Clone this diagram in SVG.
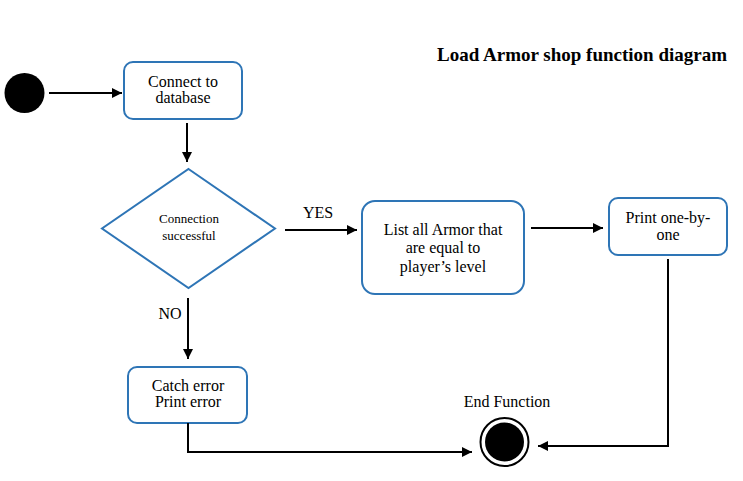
<svg xmlns="http://www.w3.org/2000/svg" width="743" height="481" viewBox="0 0 743 481">
<defs>
<marker id="ah" viewBox="0 0 10 10" refX="10" refY="5" markerWidth="10" markerHeight="10" markerUnits="userSpaceOnUse" orient="auto">
<path d="M0,0 L10,5 L0,10 z" fill="#000"/>
</marker>
<style>
.node{fill:#fff;stroke:#2E75B6;stroke-width:2}
.t{font-family:"Liberation Serif","Times New Roman",serif;font-size:16px;fill:#000;text-anchor:middle}
.s{font-size:13px}
.c{fill:none;stroke:#000;stroke-width:2}
</style>
</defs>
<rect width="743" height="481" fill="#fff"/>
<text x="727" y="61" style="font-family:'Liberation Serif','Times New Roman',serif;font-size:19px;font-weight:bold;text-anchor:end">Load Armor shop function diagram</text>
<g id="start"><circle cx="24.5" cy="93" r="20" fill="#000"/></g>
<g id="connect"><rect class="node" x="124" y="62" width="118" height="57" rx="9"/>
<text class="t" x="183" y="87">Connect to</text><text class="t" x="183" y="103">database</text></g>
<g id="decision"><polygon class="node" points="188.5,169 275,228.5 188.5,288 102,228.5"/>
<text class="t s" x="189" y="223">Connection</text><text class="t s" x="189" y="240">successful</text></g>
<g id="list"><rect class="node" x="362" y="201" width="162" height="93" rx="13"/>
<text class="t" x="443" y="235">List all Armor that</text><text class="t" x="443" y="253">are equal to</text><text class="t" x="443" y="272">player’s level</text></g>
<g id="print"><rect class="node" x="609" y="198" width="118" height="57" rx="9"/>
<text class="t" x="668" y="223">Print one-by-</text><text class="t" x="668" y="240">one</text></g>
<g id="catch"><rect class="node" x="128" y="367" width="119" height="56" rx="9"/>
<text class="t" x="188" y="391">Catch error</text><text class="t" x="188" y="407">Print error</text></g>
<g id="end"><text class="t" x="507" y="407">End Function</text>
<circle cx="504.5" cy="442" r="24" fill="#fff" stroke="#000" stroke-width="2"/><circle cx="504.5" cy="442" r="19.5" fill="#000"/></g>
<g id="connectors">
<line class="c" x1="49" y1="93" x2="122" y2="93" marker-end="url(#ah)"/>
<line class="c" x1="187" y1="123" x2="187" y2="162" marker-end="url(#ah)"/>
<line class="c" x1="285" y1="230" x2="357" y2="230" marker-end="url(#ah)"/>
<text class="t" x="318" y="218">YES</text>
<line class="c" x1="531" y1="228" x2="603" y2="228" marker-end="url(#ah)"/>
<line class="c" x1="188" y1="298" x2="188" y2="359" marker-end="url(#ah)"/>
<text class="t" x="170" y="319">NO</text>
<polyline class="c" points="188,423 188,452 472,452" marker-end="url(#ah)"/>
<polyline class="c" points="668,259 668,446 538,446" marker-end="url(#ah)"/>
</g>
</svg>
